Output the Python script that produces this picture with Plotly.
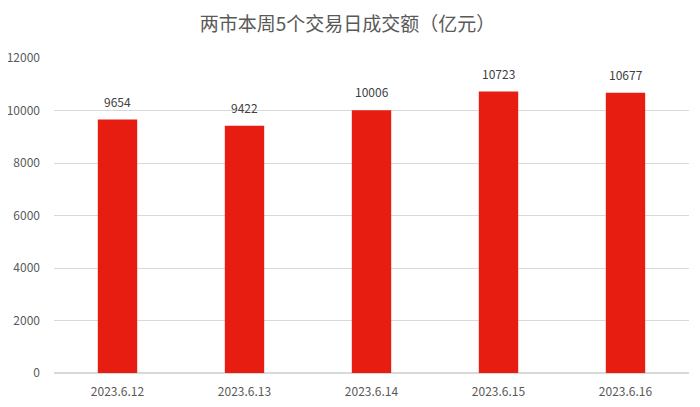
import plotly.graph_objects as go

dates = ["2023.6.12", "2023.6.13", "2023.6.14", "2023.6.15", "2023.6.16"]
turnover = [9654, 9422, 10006, 10723, 10677]
y_ticks = [0, 2000, 4000, 6000, 8000, 10000, 12000]

fig = go.Figure()
fig.add_trace(go.Bar(
    x=dates, y=turnover,
    marker=dict(color="#E81D12", line=dict(width=0)),
))

# value labels sit a bit higher above the bars than plotly's "outside" text
for d, v in zip(dates, turnover):
    fig.add_annotation(x=d, y=v, text=str(v), showarrow=False, yanchor="bottom",
                       yshift=8, font=dict(size=12, color="#404040"))

# page body has an 8px margin, so the margins below are shifted to compensate
fig.update_layout(
    width=700, height=407,
    margin=dict(l=46, r=19, t=50, b=42),
    paper_bgcolor="white", plot_bgcolor="white",
    font=dict(family="Noto Sans CJK SC, Noto Sans, sans-serif", color="#595959"),
    title=dict(text="两市本周5个交易日成交额（亿元）", x=0.485, xanchor="center",
               y=0.96, yanchor="middle", font=dict(size=19, color="#595959")),
    bargap=0.69,
    showlegend=False,
)
fig.update_xaxes(showline=False, showgrid=False, ticks="", ticklabelstandoff=10,
                 automargin=False, tickfont=dict(size=12, color="#595959"))
fig.update_yaxes(range=[0, 12000], tickvals=y_ticks, tickformat="d", showgrid=True,
                 gridcolor="#D9D9D9", zeroline=True, zerolinecolor="#D9D9D9",
                 showline=False, ticks="", ticklabelstandoff=13, automargin=False,
                 tickfont=dict(size=12, color="#595959"))

fig.write_html("out.html")
